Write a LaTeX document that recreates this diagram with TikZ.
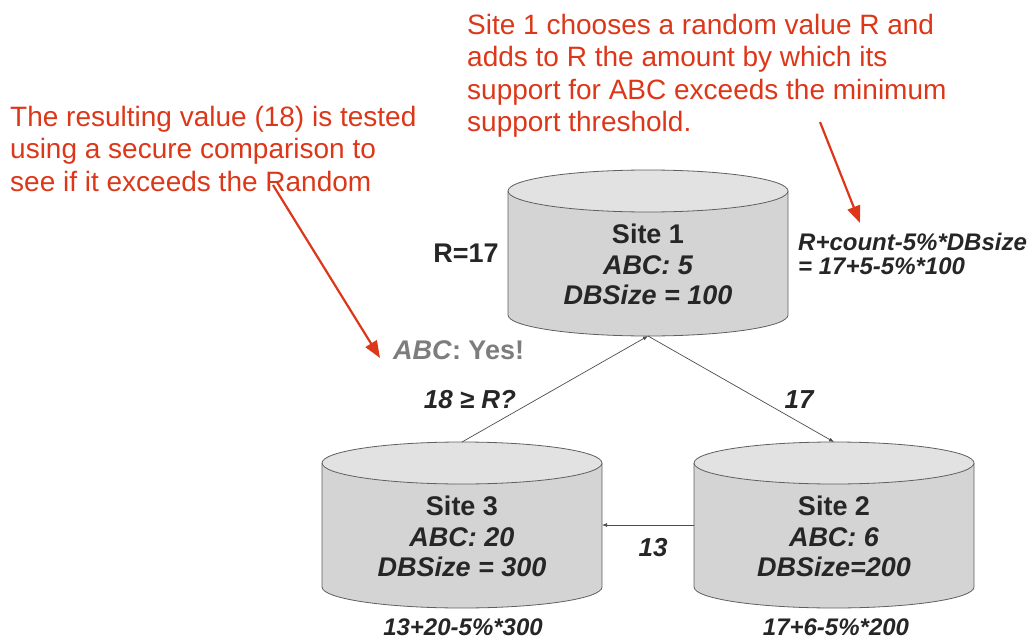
\documentclass[tikz,border=0pt]{standalone}
\usepackage{fontspec}
\setmainfont{Liberation Sans}
\usetikzlibrary{arrows.meta}

\definecolor{notered}{RGB}{220,55,25}
\definecolor{cylbody}{RGB}{212,212,212}
\definecolor{cyltop}{RGB}{226,226,226}
\definecolor{cylline}{RGB}{95,95,95}
\definecolor{inktext}{RGB}{38,38,38}
\definecolor{yesgray}{RGB}{125,125,125}

\tikzset{
  cyltext/.style={font=\fontsize{27}{30}\selectfont\bfseries, text=inktext, inner sep=0pt},
  edgelabel/.style={font=\fontsize{26}{30}\selectfont\bfseries\itshape, text=inktext, inner sep=0pt},
  calclabel/.style={font=\fontsize{24}{24}\selectfont\bfseries\itshape, text=inktext, inner sep=0pt},
  note/.style={font=\fontsize{28}{32.5}\selectfont, text=notered, align=left, inner sep=0pt},
  flow/.style={draw=black!70, line width=0.7pt, -{Latex[length=5pt,width=4pt]}},
  pointer/.style={draw=notered, line width=2.2pt, -{Triangle[length=17pt,width=13pt]}},
  pics/dbcyl/.style n args={3}{code={
    % body of the drum
    \fill[cylbody] (-140,-21) -- (-140,-145)
      arc[start angle=180, end angle=360, x radius=140, y radius=21] -- (140,-21) -- cycle;
    \draw[cylline, line width=0.8pt] (-140,-21) -- (-140,-145)
      arc[start angle=180, end angle=360, x radius=140, y radius=21] -- (140,-21);
    % lid
    \filldraw[fill=cyltop, draw=cylline, line width=0.8pt] (0,-21) ellipse [x radius=140, y radius=21];
    \coordinate (-top) at (0,0);
    \coordinate (-bot) at (0,-166);
    \coordinate (-west) at (-140,-83);
    \coordinate (-east) at (140,-83);
    \node[cyltext] (-name) at (0,-64) {#1};
    \node[cyltext] (-count) at (0,-95) {\itshape #2};
    \node[cyltext] (-size) at (0,-125) {\itshape #3};
  }}
}

\begin{document}
\begin{tikzpicture}[x=1pt, y=1pt]
  \useasboundingbox (0,0) rectangle (1035,641);

  % the three sites
  \pic (s1) at (648,471) {dbcyl={Site 1}{ABC: 5}{DBSize = 100}};
  \pic (s3) at (462,199) {dbcyl={Site 3}{ABC: 20}{DBSize = 300}};
  \pic (s2) at (834,199) {dbcyl={Site 2}{ABC: 6}{DBSize=200}};

  % message ring
  \draw[flow] (s3-top) -- (s1-bot);
  \draw[flow] (s1-bot) -- (s2-top);
  \draw[flow] (s2-west) -- (s3-east);

  % labels on the ring
  \node[edgelabel] (cmp) at (470,241) {18 ≥ R?};
  \node[edgelabel] (m12) at (799,241) {17};
  \node[edgelabel] (m23) at (653,93) {13};
  \node[cyltext] (rval) at (466,388) {R=17};
  \node[cyltext, text=yesgray, anchor=west] (yes) at (393,291) {\textit{ABC}: Yes!};

  % local computations
  \node[calclabel, align=left, anchor=west] (c1) at (798,387) {R+count-5\%*DBsize\\= 17+5-5\%*100};
  \node[calclabel] (c3) at (463,14) {13+20-5\%*300};
  \node[calclabel] (c2) at (836,14) {17+6-5\%*200};

  % explanatory notes
  \node[note, anchor=north west] (n1) at (467,627)
    {Site 1 chooses a random value R and\\adds to R the amount by which its\\support for ABC exceeds the minimum\\support threshold.};
  \node[note, anchor=north west] (n2) at (10,535)
    {The resulting value (18) is tested\\using a secure comparison to\\see if it exceeds the Random};

  \coordinate (a1s) at (820,519);
  \coordinate (a1e) at (860,418);
  \coordinate (a2s) at (273,456);
  \coordinate (a2e) at (380,283);
  \draw[pointer] (a1s) -- (a1e);
  \draw[pointer] (a2s) -- (a2e);
\end{tikzpicture}
\end{document}
